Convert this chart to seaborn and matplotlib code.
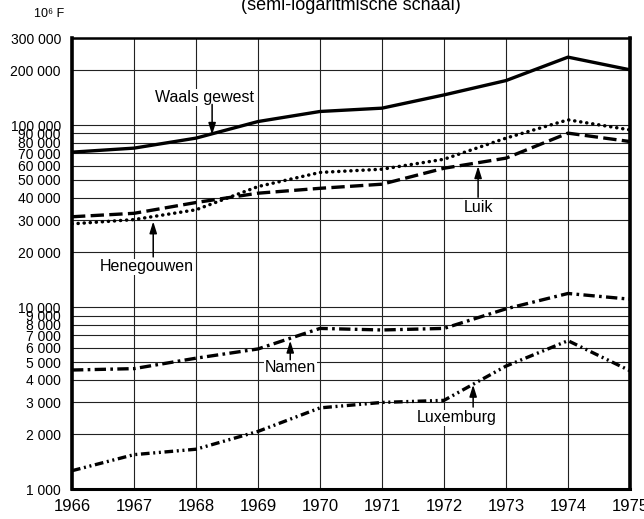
import numpy as np
import pandas as pd
import matplotlib
matplotlib.use("Agg")
import matplotlib.pyplot as plt
import seaborn as sns
from matplotlib.ticker import FixedLocator, FixedFormatter, NullLocator

# ---- data (10^6 F, semi-log) ----
jaren = [1966, 1967, 1968, 1969, 1970, 1971, 1972, 1973, 1974, 1975]
waals_gewest = [71100, 74800, 84900, 104700, 118900, 124000, 146600, 175800, 236400, 201400]
henegouwen = [28700, 30300, 34300, 46000, 55000, 57300, 65000, 84900, 107000, 94200]
luik = [31400, 32800, 37600, 42300, 45000, 47400, 58000, 65900, 90400, 81300]
namen = [4520, 4600, 5250, 5900, 7650, 7500, 7650, 9800, 11900, 11070]
luxemburg = [1265, 1550, 1660, 2080, 2800, 3000, 3080, 4750, 6550, 4480]

gebieden = ["Waals gewest", "Henegouwen", "Luik", "Namen", "Luxemburg"]
reeksen = [waals_gewest, henegouwen, luik, namen, luxemburg]

y_ticks = [1000, 2000, 3000, 4000, 5000, 6000, 7000, 8000, 9000, 10000,
           20000, 30000, 40000, 50000, 60000, 70000, 80000, 90000, 100000,
           200000, 300000]
y_labels = ["1 000", "2 000", "3 000", "4 000", "5 000", "6 000", "7 000", "8 000",
            "9 000", "10 000", "20 000", "30 000", "40 000", "50 000", "60 000",
            "70 000", "80 000", "90 000", "100 000", "200 000", "300 000"]
x_labels = [str(j) for j in jaren]

df = pd.DataFrame({
    "jaar": np.tile(jaren, len(gebieden)),
    "waarde": np.concatenate(reeksen),
    "gebied": np.repeat(gebieden, len(jaren)),
})

sns.set_style("white")
plt.rcParams["font.family"] = ["Liberation Sans", "DejaVu Sans"]

fig = plt.figure(figsize=(6.44, 5.19), dpi=100)
ax = fig.add_axes([72 / 644, 1 - 489.3 / 519, (630 - 72) / 644, (489.3 - 38.3) / 519])
ax.set_yscale("log")

stijlen = {
    "Waals gewest": dict(linestyle="-", linewidth=2.4),
    "Henegouwen": dict(linestyle=(0, (0.05, 1.7)), linewidth=2.5, dash_capstyle="round"),
    "Luik": dict(linestyle=(0, (4.0, 1.6)), linewidth=2.4),
    "Namen": dict(linestyle=(0, (3.4, 1.3, 0.8, 1.3)), linewidth=2.4),
    "Luxemburg": dict(linestyle=(0, (2.6, 1.1, 0.6, 1.1, 0.6, 1.1)), linewidth=2.4),
}

for g in gebieden:
    sub = df[df["gebied"] == g]
    sns.lineplot(data=sub, x="jaar", y="waarde", ax=ax, color="black",
                 legend=False, zorder=3, **stijlen[g])

ax.set_xlim(1966, 1975)
ax.set_ylim(1000, 300000)

ax.yaxis.set_major_locator(FixedLocator(y_ticks))
ax.yaxis.set_major_formatter(FixedFormatter(y_labels))
ax.yaxis.set_minor_locator(NullLocator())
ax.set_xticks(jaren)
ax.set_xticklabels(x_labels)
ax.tick_params(axis="y", length=0, pad=8, labelsize=10, colors="black")
ax.tick_params(axis="x", length=0, pad=7, labelsize=12, colors="black")
ax.set_xlabel("")
ax.set_ylabel("")

ax.grid(True, which="major", color="#222222", linewidth=0.8, zorder=1)
ax.set_axisbelow(True)

for side, lw in [("left", 2.6), ("right", 2.6), ("bottom", 2.2), ("top", 1.8)]:
    ax.spines[side].set_visible(True)
    ax.spines[side].set_color("black")
    ax.spines[side].set_linewidth(lw)

# ---- annotations ----
pijl = dict(arrowstyle="-|>,head_length=0.7,head_width=0.22", color="black",
            lw=1.1, shrinkA=0, shrinkB=0)
labels = [
    ("Waals gewest", (1968.13, 142000), (1968.26, 130000), (1968.26, 88500)),
    ("Luik", (1972.55, 35300), (1972.55, 40200), (1972.55, 59500)),
    ("Henegouwen", (1967.21, 16650), (1967.31, 18900), (1967.31, 29600)),
    ("Namen", (1969.52, 4640), (1969.52, 5150), (1969.52, 6550)),
    ("Luxemburg", (1972.21, 2465), (1972.47, 2830), (1972.47, 3750)),
]
for tekst, pos, staart, punt in labels:
    ax.text(pos[0], pos[1], tekst, ha="center", va="center", fontsize=11.5,
            color="black", zorder=5,
            bbox=dict(facecolor="white", edgecolor="none", pad=0.5))
    ax.annotate("", xy=punt, xytext=staart, arrowprops=pijl, zorder=5)

fig.text(351 / 644, 1 - 10 / 519, "(semi-logaritmische schaal)", ha="center",
         va="baseline", fontsize=13, color="black")
fig.text(49 / 644, 1 - 14 / 519, "10\u2076 F", ha="center", va="center",
         fontsize=9, color="black")

fig.savefig("out.png", dpi=100, facecolor="white")
